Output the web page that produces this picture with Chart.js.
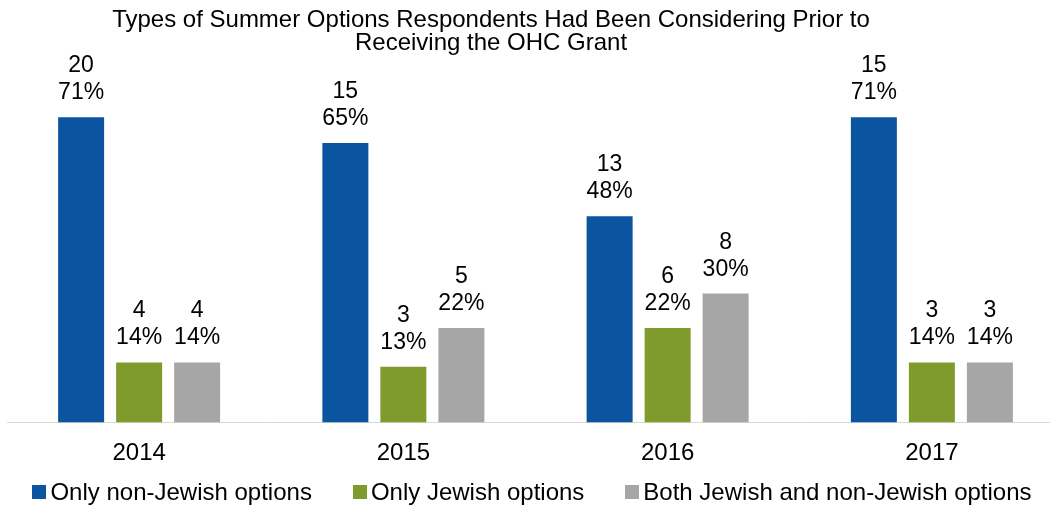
<!DOCTYPE html>
<html>
<head>
<meta charset="utf-8">
<script src="https://cdn.jsdelivr.net/npm/chart.js@4"></script>
<style>
  html, body { margin: 0; padding: 0; background: #fff; overflow: hidden; }
  #wrap { position: relative; width: 1064px; height: 506px; }
  #legend {
    position: absolute; left: 0; top: 480px; width: 1064px;
    display: flex; justify-content: center; align-items: center; gap: 41px;
    font: 24px 'Liberation Sans', Arial, sans-serif; line-height: 24px; color: #000;
  }
  #legend .item { display: flex; align-items: center; white-space: nowrap; }
  #legend .box { width: 14px; height: 14px; margin-right: 4px; }
</style>
</head>
<body>
<div id="wrap">
  <canvas id="myChart" width="1064" height="506"></canvas>
  <div id="legend"></div>
</div>
<script>
const years = ["2014", "2015", "2016", "2017"];
const seriesNames = ["Only non-Jewish options", "Only Jewish options", "Both Jewish and non-Jewish options"];
// percentages (bar heights)
const nonJewishPct = [71, 65, 48, 71];
const jewishPct = [14, 13, 22, 14];
const bothPct = [14, 22, 30, 14];
// respondent counts shown above the percentages
const nonJewishCount = [20, 15, 13, 15];
const jewishCount = [4, 3, 6, 3];
const bothCount = [4, 5, 8, 3];
const titleLines = ["Types of Summer Options Respondents Had Been Considering Prior to", "Receiving the OHC Grant"];

const colors = ["#0B55A0", "#7E9B2C", "#A6A6A6"];
const counts = [nonJewishCount, jewishCount, bothCount];
const FONT = "'Liberation Sans', Arial, sans-serif";

// title above the plot
const titlePlugin = {
  id: "titleText",
  afterDraw(chart) {
    const ctx = chart.ctx;
    ctx.save();
    ctx.font = "24px " + FONT;
    ctx.fillStyle = "#000";
    ctx.textAlign = "center";
    ctx.textBaseline = "alphabetic";
    titleLines.forEach((line, i) => ctx.fillText(line, 491, 27 + i * 23));
    ctx.restore();
  }
};

// count + percent labels above the bars
const labelPlugin = {
  id: "barLabels",
  afterDatasetsDraw(chart) {
    const ctx = chart.ctx;
    ctx.save();
    ctx.font = "23px " + FONT;
    ctx.fillStyle = "#000";
    ctx.textAlign = "center";
    ctx.textBaseline = "alphabetic";
    chart.data.datasets.forEach((ds, di) => {
      chart.getDatasetMeta(di).data.forEach((bar, i) => {
        ctx.fillText(ds.data[i] + "%", bar.x, bar.y - 18);
        ctx.fillText(String(counts[di][i]), bar.x, bar.y - 45);
      });
    });
    ctx.restore();
  }
};

// HTML legend built from the chart's own legend items
const htmlLegend = {
  id: "htmlLegend",
  afterUpdate(chart) {
    const box = document.getElementById("legend");
    box.innerHTML = "";
    const items = chart.options.plugins.legend.labels.generateLabels(chart);
    items.forEach(item => {
      const el = document.createElement("span");
      el.className = "item";
      const sw = document.createElement("span");
      sw.className = "box";
      sw.style.background = item.fillStyle;
      el.appendChild(sw);
      el.appendChild(document.createTextNode(item.text));
      box.appendChild(el);
    });
  }
};

const canvas = document.getElementById("myChart");
const chart = new Chart(canvas, {
  type: "bar",
  data: {
    labels: years,
    datasets: [
      { label: seriesNames[0], data: nonJewishPct, backgroundColor: colors[0] },
      { label: seriesNames[1], data: jewishPct, backgroundColor: colors[1] },
      { label: seriesNames[2], data: bothPct, backgroundColor: colors[2] }
    ]
  },
  options: {
    responsive: false,
    animation: false,
    datasets: {
      bar: { categoryPercentage: 0.6585, barPercentage: 0.793 }
    },
    layout: { padding: { left: 7, right: 0, top: 60, bottom: 29 } },
    plugins: {
      title: { display: false },
      tooltip: { enabled: false },
      legend: { display: false }
    },
    scales: {
      x: {
        grid: { display: false },
        border: { display: true, color: "#D9D9D9", width: 1 },
        ticks: { font: { family: FONT, size: 24, lineHeight: 1.6 }, color: "#000", padding: 4 }
      },
      y: { display: false, min: 0, max: 84.3 }
    }
  },
  plugins: [titlePlugin, labelPlugin, htmlLegend]
});
</script>
</body>
</html>
